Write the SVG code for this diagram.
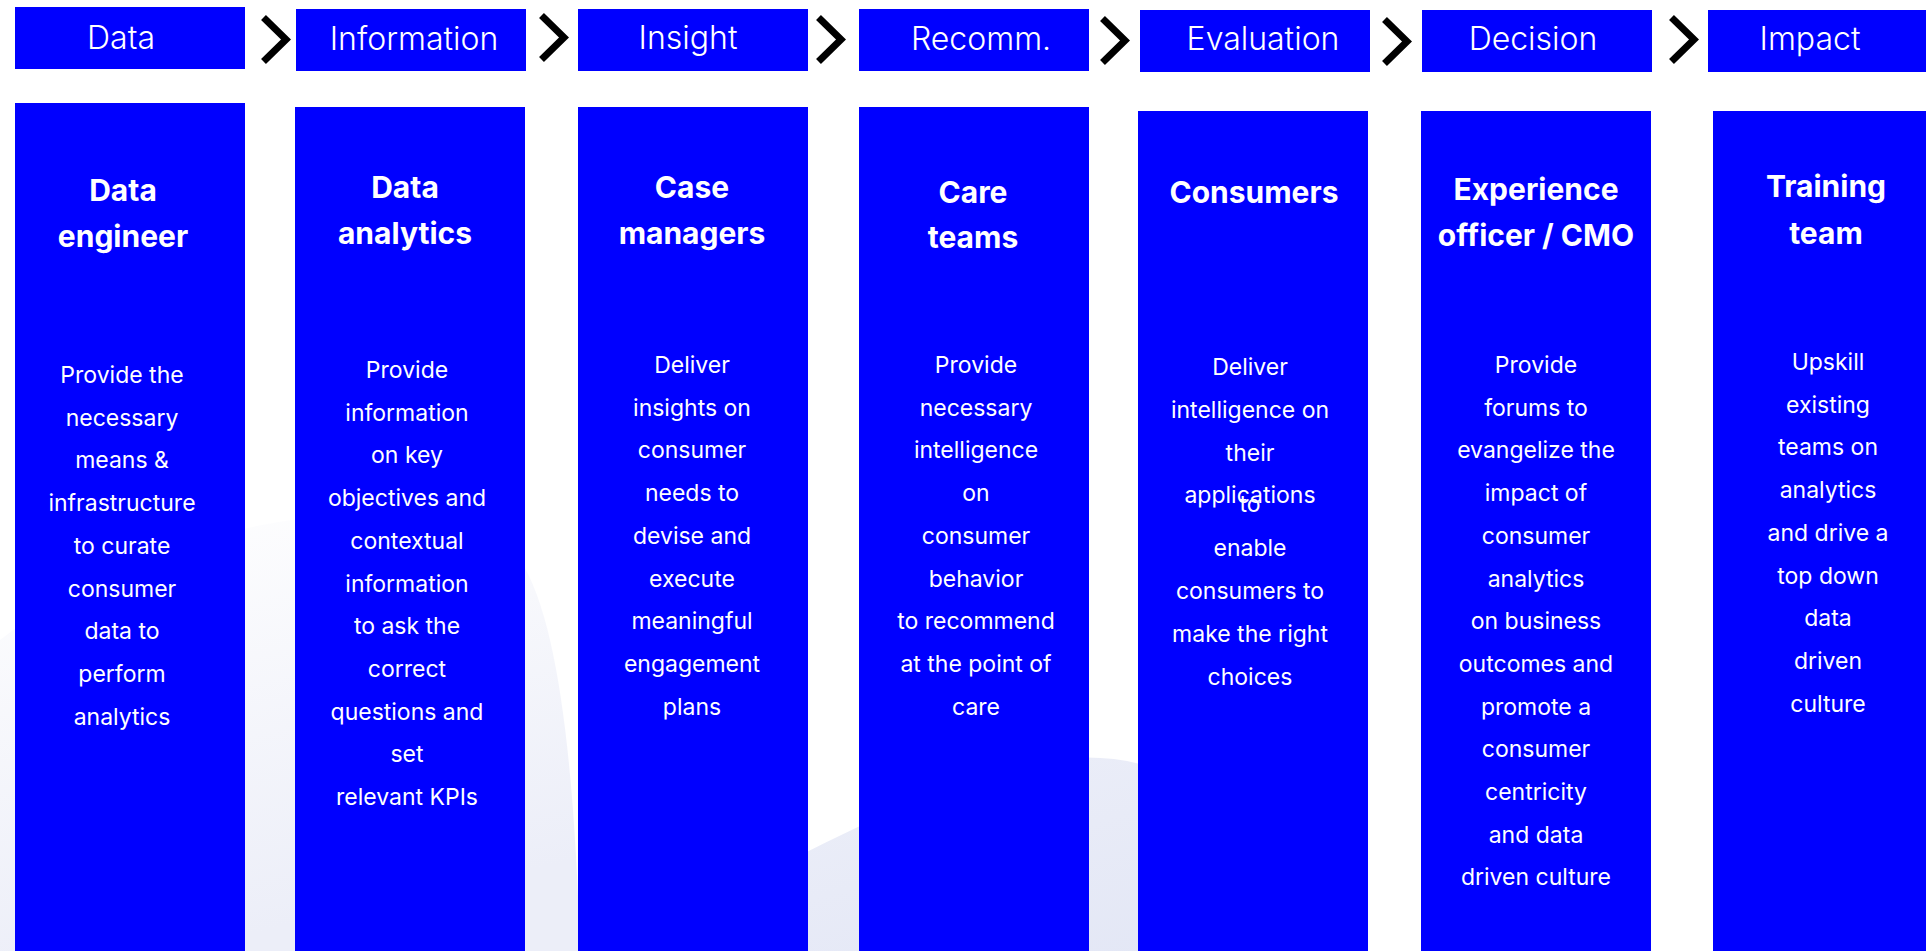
<svg xmlns="http://www.w3.org/2000/svg" xmlns:xlink="http://www.w3.org/1999/xlink" width="1926" height="951" viewBox="0 0 1926 951">
<defs>
<style>
.box{fill:#0000ff}
.hd{font-family:Inter,"Noto Sans",sans-serif;font-size:32px;font-weight:300;fill:#ffffff;text-anchor:middle}
.tt{font-family:Inter,"Noto Sans",sans-serif;font-size:30px;font-weight:700;fill:#ffffff;text-anchor:middle}
.bd{font-family:Inter,"Noto Sans",sans-serif;font-size:23px;font-weight:400;fill:#ffffff;text-anchor:middle}
.chev{fill:none;stroke:#000000;stroke-width:7;stroke-linejoin:miter;stroke-linecap:butt}
</style>
<linearGradient id="bgA" x1="0" y1="0" x2="0.3" y2="1">
<stop offset="0" stop-color="#ffffff"/>
<stop offset="1" stop-color="#eceef8"/>
</linearGradient>
<linearGradient id="bgB" x1="0" y1="0" x2="1" y2="1">
<stop offset="0" stop-color="#eef0f9"/>
<stop offset="1" stop-color="#e2e6f5"/>
</linearGradient>
<polyline id="chevShape" class="chev" points="4.5,2.5 27,24.5 4.5,46.5"/>
</defs>
<rect x="0" y="0" width="1926" height="951" fill="#ffffff"/>
<g id="background">
<path d="M0 951 L0 640 C150 520 430 470 520 560 C560 620 575 780 580 951 Z" fill="url(#bgA)"/>
<path d="M620 951 C740 890 900 790 1040 762 C1160 740 1260 800 1330 951 Z" fill="url(#bgB)"/>
</g>
<g id="connectors">
<use xlink:href="#chevShape" href="#chevShape" transform="translate(259,15)"/>
<use xlink:href="#chevShape" href="#chevShape" transform="translate(537,13)"/>
<use xlink:href="#chevShape" href="#chevShape" transform="translate(814,15)"/>
<use xlink:href="#chevShape" href="#chevShape" transform="translate(1098,16)"/>
<use xlink:href="#chevShape" href="#chevShape" transform="translate(1380,17)"/>
<use xlink:href="#chevShape" href="#chevShape" transform="translate(1667,15)"/>
</g>
<g id="header-data"><rect class="box" x="15" y="7" width="230" height="62"/><text class="hd" x="121" y="49">Data</text></g>
<g id="header-information"><rect class="box" x="296" y="9" width="230" height="62"/><text class="hd" x="414" y="50">Information</text></g>
<g id="header-insight"><rect class="box" x="578" y="9" width="230" height="62"/><text class="hd" x="688" y="49">Insight</text></g>
<g id="header-recomm"><rect class="box" x="859" y="9" width="230" height="62"/><text class="hd" x="981" y="50">Recomm.</text></g>
<g id="header-evaluation"><rect class="box" x="1140" y="10" width="230" height="62"/><text class="hd" x="1263" y="50">Evaluation</text></g>
<g id="header-decision"><rect class="box" x="1422" y="10" width="230" height="62"/><text class="hd" x="1533" y="50">Decision</text></g>
<g id="header-impact"><rect class="box" x="1708" y="10" width="230" height="62"/><text class="hd" x="1810" y="50">Impact</text></g>

<g id="col-data-engineer"><rect class="box" x="15" y="103" width="230" height="848"/>
<text class="tt"><tspan x="123" y="201">Data</tspan><tspan x="123" y="247">engineer</tspan></text>
<text class="bd"><tspan x="122" y="383">Provide the</tspan><tspan x="122" dy="42.7">necessary</tspan><tspan x="122" dy="42.7">means &amp;</tspan><tspan x="122" dy="42.7">infrastructure</tspan><tspan x="122" dy="42.7">to curate</tspan><tspan x="122" dy="42.7">consumer</tspan><tspan x="122" dy="42.7">data to</tspan><tspan x="122" dy="42.7">perform</tspan><tspan x="122" dy="42.7">analytics</tspan></text>
</g>
<g id="col-data-analytics"><rect class="box" x="295" y="107" width="230" height="844"/>
<text class="tt"><tspan x="405" y="198">Data</tspan><tspan x="405" y="244">analytics</tspan></text>
<text class="bd"><tspan x="407" y="378">Provide</tspan><tspan x="407" dy="42.7">information</tspan><tspan x="407" dy="42.7">on key</tspan><tspan x="407" dy="42.7">objectives and</tspan><tspan x="407" dy="42.7">contextual</tspan><tspan x="407" dy="42.7">information</tspan><tspan x="407" dy="42.7">to ask the</tspan><tspan x="407" dy="42.7">correct</tspan><tspan x="407" dy="42.7">questions and</tspan><tspan x="407" dy="42.7">set</tspan><tspan x="407" dy="42.7">relevant KPIs</tspan></text>
</g>
<g id="col-case-managers"><rect class="box" x="578" y="107" width="230" height="844"/>
<text class="tt"><tspan x="692" y="198">Case</tspan><tspan x="692" y="244">managers</tspan></text>
<text class="bd"><tspan x="692" y="373">Deliver</tspan><tspan x="692" dy="42.7">insights on</tspan><tspan x="692" dy="42.7">consumer</tspan><tspan x="692" dy="42.7">needs to</tspan><tspan x="692" dy="42.7">devise and</tspan><tspan x="692" dy="42.7">execute</tspan><tspan x="692" dy="42.7">meaningful</tspan><tspan x="692" dy="42.7">engagement</tspan><tspan x="692" dy="42.7">plans</tspan></text>
</g>
<g id="col-care-teams"><rect class="box" x="859" y="107" width="230" height="844"/>
<text class="tt"><tspan x="973" y="203">Care</tspan><tspan x="973" y="248">teams</tspan></text>
<text class="bd"><tspan x="976" y="373">Provide</tspan><tspan x="976" dy="42.7">necessary</tspan><tspan x="976" dy="42.7">intelligence</tspan><tspan x="976" dy="42.7">on</tspan><tspan x="976" dy="42.7">consumer</tspan><tspan x="976" dy="42.7">behavior</tspan><tspan x="976" dy="42.7">to recommend</tspan><tspan x="976" dy="42.7">at the point of</tspan><tspan x="976" dy="42.7">care</tspan></text>
</g>
<g id="col-consumers"><rect class="box" x="1138" y="111" width="230" height="840"/>
<text class="tt" x="1254" y="203">Consumers</text>
<text class="bd"><tspan x="1250" y="375">Deliver</tspan><tspan x="1250" y="418">intelligence on</tspan><tspan x="1250" y="461">their</tspan><tspan x="1250" y="503">applications</tspan><tspan x="1250" y="512">to</tspan><tspan x="1250" y="556">enable</tspan><tspan x="1250" y="599">consumers to</tspan><tspan x="1250" y="642">make the right</tspan><tspan x="1250" y="685">choices</tspan></text>
</g>
<g id="col-experience-officer"><rect class="box" x="1421" y="111" width="230" height="840"/>
<text class="tt"><tspan x="1536" y="200">Experience</tspan><tspan x="1536" y="246">officer / CMO</tspan></text>
<text class="bd"><tspan x="1536" y="373">Provide</tspan><tspan x="1536" dy="42.7">forums to</tspan><tspan x="1536" dy="42.7">evangelize the</tspan><tspan x="1536" dy="42.7">impact of</tspan><tspan x="1536" dy="42.7">consumer</tspan><tspan x="1536" dy="42.7">analytics</tspan><tspan x="1536" dy="42.7">on business</tspan><tspan x="1536" dy="42.7">outcomes and</tspan><tspan x="1536" dy="42.7">promote a</tspan><tspan x="1536" dy="42.7">consumer</tspan><tspan x="1536" dy="42.7">centricity</tspan><tspan x="1536" dy="42.7">and data</tspan><tspan x="1536" dy="42.7">driven culture</tspan></text>
</g>
<g id="col-training-team"><rect class="box" x="1713" y="111" width="230" height="840"/>
<text class="tt"><tspan x="1826" y="197">Training</tspan><tspan x="1826" y="244">team</tspan></text>
<text class="bd"><tspan x="1828" y="370">Upskill</tspan><tspan x="1828" dy="42.7">existing</tspan><tspan x="1828" dy="42.7">teams on</tspan><tspan x="1828" dy="42.7">analytics</tspan><tspan x="1828" dy="42.7">and drive a</tspan><tspan x="1828" dy="42.7">top down</tspan><tspan x="1828" dy="42.7">data</tspan><tspan x="1828" dy="42.7">driven</tspan><tspan x="1828" dy="42.7">culture</tspan></text>
</g>
</svg>
